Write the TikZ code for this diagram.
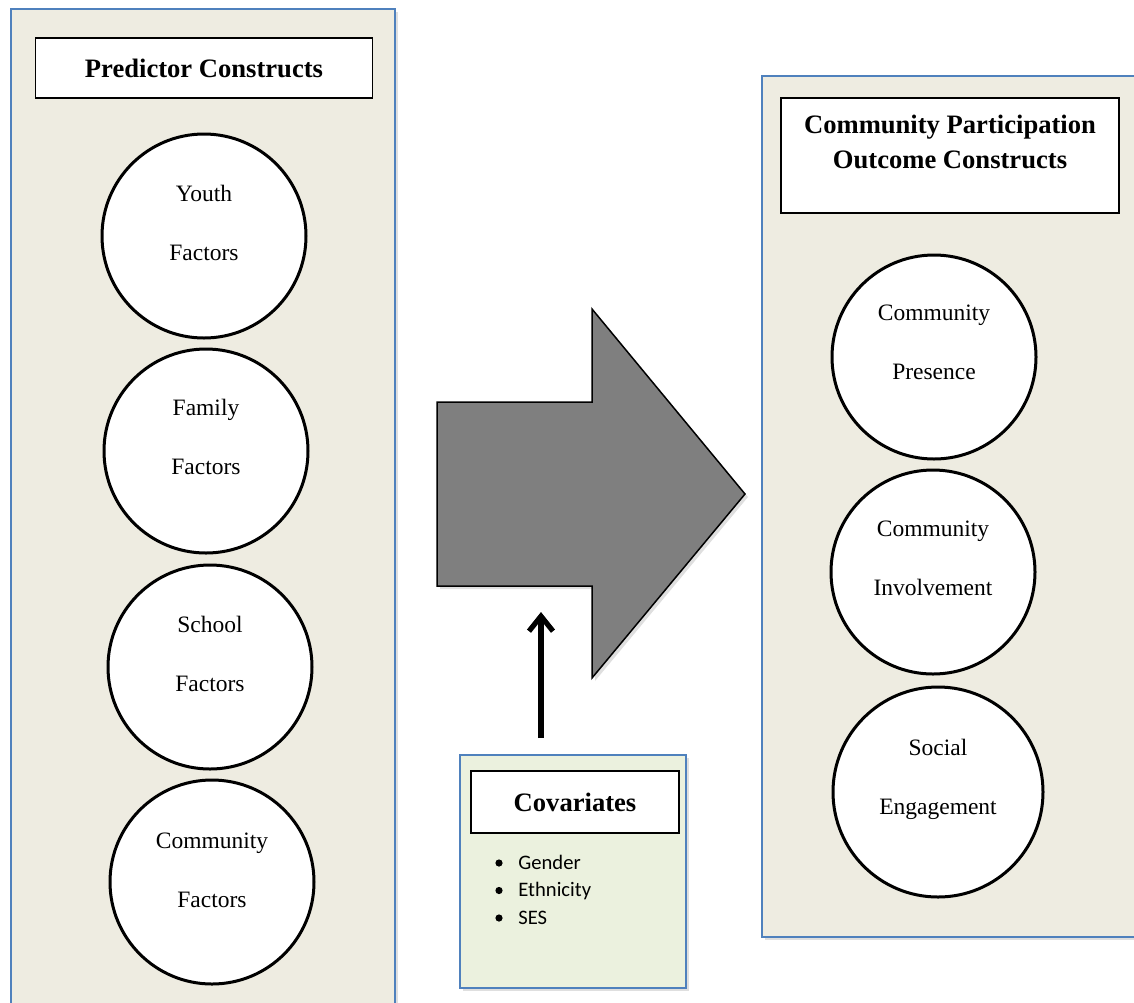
\documentclass[tikz,border=0pt]{standalone}
\usepackage{fontspec}
\setmainfont{Liberation Serif}
\newfontfamily\calib{Carlito}
\usetikzlibrary{arrows.meta,shadows}
\definecolor{panelfill}{HTML}{EEECE1}
\definecolor{covfill}{HTML}{EBF1DE}
\definecolor{panelblue}{HTML}{4F81BD}
\definecolor{arrowgray}{HTML}{7F7F7F}
\tikzset{
  panel/.style={draw=panelblue, line width=1pt, fill=panelfill,
    drop shadow={opacity=0.25, shadow xshift=1.5pt, shadow yshift=-1.5pt}},
  covpanel/.style={draw=panelblue, line width=1pt, fill=covfill,
    drop shadow={opacity=0.25, shadow xshift=1.5pt, shadow yshift=-1.5pt}},
  titlebox/.style={draw=black, line width=0.75pt, fill=white, inner sep=0pt,
    font=\fontsize{13.3}{17.5}\selectfont\bfseries},
  circ/.style={circle, draw=black, line width=1.5pt, fill=white, inner sep=0pt, minimum size=102pt},
  ctext/.style={align=center, inner sep=0pt, font=\fontsize{11.75}{29.5}\selectfont},
  item/.style={anchor=base west, inner sep=0pt, font=\calib\fontsize{10.3}{12}\selectfont},
  bulletmark/.style={circle, fill=black, inner sep=0pt, minimum size=3.6pt},
  bigarrow/.style={fill=arrowgray, draw=black, line width=0.75pt,
    drop shadow={opacity=0.25, shadow xshift=1.5pt, shadow yshift=-1.5pt}},
  cvarrow/.style={line width=2.6pt, -{Straight Barb[length=7.5pt,width=12pt,line width=2.6pt]}}
}
\begin{document}
\begin{tikzpicture}[x=0.5pt,y=-0.5pt]
\useasboundingbox (0,0) rectangle (1134,1002);
\clip (0,0) rectangle (1134,1002);
% left panel
\path[panel] (11,9) rectangle (395,1030);
\node[titlebox, minimum width=168.5pt, minimum height=30pt] (ptitle) at (204,68) {Predictor Constructs};
\node[circ] (youth) at (204,236) {};
\node[ctext] (youtht) at (204,222.5) {Youth\\Factors};
\node[circ] (family) at (206,451) {};
\node[ctext] (familyt) at (206,437) {Family\\Factors};
\node[circ] (school) at (210,667) {};
\node[ctext] (schoolt) at (210,653.5) {School\\Factors};
\node[circ] (commf) at (212,882) {};
\node[ctext] (commft) at (212,870) {Community\\Factors};
% right panel
\path[panel] (762,76) rectangle (1160,937);
\node[titlebox, minimum width=169pt, minimum height=57.5pt] (otitle) at (950,155.5) {};
\node[align=center, inner sep=0pt, font=\fontsize{13.3}{17.5}\selectfont\bfseries] (otitlet) at (950,142) {Community Participation\\Outcome Constructs};
\node[circ] (pres) at (934,357) {};
\node[ctext] (prest) at (934,342.5) {Community\\Presence};
\node[circ] (invol) at (933,572) {};
\node[ctext] (involt) at (933,558) {Community\\Involvement};
\node[circ, minimum size=105pt] (soc) at (938,792) {};
\node[ctext] (soct) at (938,779) {Social\\Engagement};
% big arrow
\path[bigarrow] (437,402) -- (592,402) -- (592,309) -- (745,494) -- (592,678) -- (592,586) -- (437,586) -- cycle;
% covariates
\path[covpanel] (460,755) rectangle (686,988);
\node[titlebox, minimum width=104pt, minimum height=31pt] (cvtitle) at (575,802) {Covariates};
\node[bulletmark] (b1) at (499,863) {};
\node[item] (g1) at (518,869) {Gender};
\node[bulletmark] (b2) at (499,890.5) {};
\node[item] (g2) at (518,896.5) {Ethnicity};
\node[bulletmark] (b3) at (499,918) {};
\node[item] (g3) at (518,924) {SES};
\coordinate (cvtail) at (541,738);
\coordinate (cvtip) at (541,612);
\draw[cvarrow] (cvtail) -- (cvtip);
\end{tikzpicture}
\end{document}
